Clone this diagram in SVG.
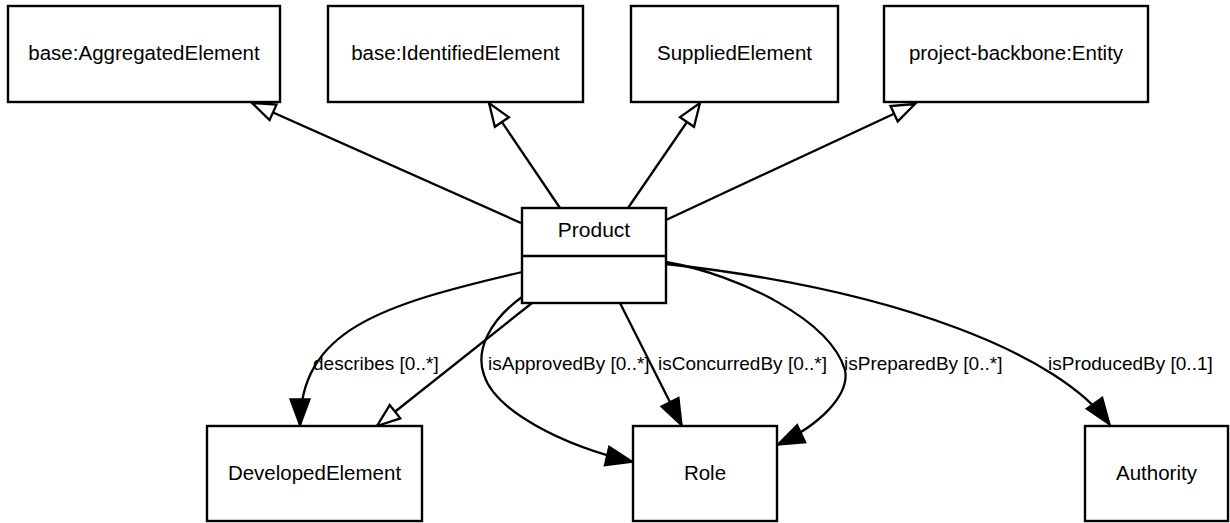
<svg xmlns="http://www.w3.org/2000/svg" width="1230" height="523" viewBox="0 0 1230 523">
<style>
.box{fill:#fff;stroke:#000;stroke-width:2.4}
.nt{font-family:"Liberation Sans",Arial,sans-serif;font-size:20.5px;fill:#000;text-anchor:middle}
.lb{font-family:"Liberation Sans",Arial,sans-serif;font-size:19px;fill:#000}
.e{fill:none;stroke:#000;stroke-width:2.3}
.gen{marker-end:url(#hollow)}
.assoc{marker-end:url(#filled)}
</style>
<defs>
<marker id="hollow" markerUnits="userSpaceOnUse" markerWidth="30" markerHeight="24" viewBox="-26 -12 28 24" refX="0" refY="0" orient="auto" overflow="visible">
<path d="M0,0 L-23,-8.5 L-23,8.5 Z" fill="#fff" stroke="#000" stroke-width="2.3"/>
</marker>
<marker id="filled" markerUnits="userSpaceOnUse" markerWidth="32" markerHeight="24" viewBox="-30 -12 32 24" refX="0" refY="0" orient="auto" overflow="visible">
<path d="M0,0 L-27,-10 L-27,10 Z" fill="#000" stroke="#000" stroke-width="1.5"/>
</marker>
</defs>
<rect width="1230" height="523" fill="#fff"/>
<g id="connectors">
<path class="e gen" d="M521,223 L252,103"/>
<path class="e gen" d="M560,208 L489,103"/>
<path class="e gen" d="M628,208 L700,103"/>
<path class="e gen" d="M666,220 L915,104"/>
<path class="e gen" d="M532,303 L377,426"/>
<path class="e assoc" d="M522,272 C380,305 300,330 300,426"/>
<path class="e assoc" d="M522,297 C490,320 475,350 484,375 C495,410 560,445 633,462"/>
<path class="e assoc" d="M620,303 L682,426"/>
<path class="e assoc" d="M666,262 C740,275 830,320 845,370 C850,395 820,425 777,445"/>
<path class="e assoc" d="M666,264 C900,290 1060,355 1110,425"/>
<text class="lb" x="313" y="370">describes [0..*]</text>
<text class="lb" x="488" y="370">isApprovedBy [0..*]</text>
<text class="lb" x="658" y="370">isConcurredBy [0..*]</text>
<text class="lb" x="844" y="370">isPreparedBy [0..*]</text>
<text class="lb" x="1048" y="370">isProducedBy [0..1]</text>
</g>
<g id="aggregatedElement"><rect class="box" x="8" y="6" width="272" height="96"/><text class="nt" x="144" y="60">base:AggregatedElement</text></g>
<g id="identifiedElement"><rect class="box" x="328" y="6" width="255" height="96"/><text class="nt" x="455.5" y="60">base:IdentifiedElement</text></g>
<g id="suppliedElement"><rect class="box" x="631" y="6" width="207" height="96"/><text class="nt" x="734.5" y="60">SuppliedElement</text></g>
<g id="entity"><rect class="box" x="884" y="6" width="264" height="96"/><text class="nt" x="1016" y="60">project-backbone:Entity</text></g>
<g id="product"><rect class="box" x="522" y="208" width="144" height="95"/><line x1="522" y1="256" x2="666" y2="256" stroke="#000" stroke-width="2.4"/><text class="nt" x="594" y="237" style="font-size:21px">Product</text></g>
<g id="developedElement"><rect class="box" x="207" y="426" width="215" height="95"/><text class="nt" x="314.5" y="480">DevelopedElement</text></g>
<g id="role"><rect class="box" x="633" y="426" width="144" height="95"/><text class="nt" x="705" y="480">Role</text></g>
<g id="authority"><rect class="box" x="1085" y="426" width="143" height="95"/><text class="nt" x="1156.5" y="480">Authority</text></g>
</svg>
